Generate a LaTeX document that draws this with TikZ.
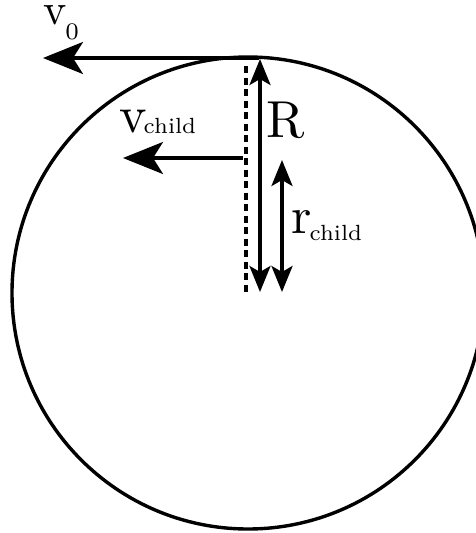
\documentclass[tikz,border=0pt]{standalone}
\usetikzlibrary{arrows.meta}
\newcommand\mainsym[2]{\scalebox{#1}{\normalsize #2}}
\newcommand\subsym[3]{\raisebox{-#1pt}{\scalebox{#2}{\scriptsize #3}}}
\begin{document}
\begin{tikzpicture}[x=1pt,y=-1pt,
  stroke/.style={line width=3.4pt, black},
  harrow/.style={stroke, -{Stealth[length=40pt,width=32pt,inset=10pt]}},
  varrow/.style={stroke, {Stealth[length=26pt,width=21pt,inset=6pt]}-{Stealth[length=26pt,width=21pt,inset=6pt]}},
  dashline/.style={line width=3.4pt, dash pattern=on 7pt off 4.5pt},
  lbl/.style={anchor=base west, inner sep=0pt}]
\useasboundingbox (0,0) rectangle (476,533);
\clip (0,0) rectangle (476,533);
% circle
\coordinate (c) at (248,293);
\draw[stroke] (c) circle[radius=236];
% coordinates
\coordinate (top) at (259,58);
\coordinate (v0end) at (43,58);
\coordinate (Rtop) at (260,59);
\coordinate (Rbot) at (260,292);
\coordinate (rtop) at (282,160);
\coordinate (rbot) at (282,292);
\coordinate (dtop) at (246,66);
\coordinate (dbot) at (246,294);
\coordinate (vcs) at (243,158);
\coordinate (vce) at (123,158);
% arrows
\draw[harrow] (top) -- (v0end);
\draw[dashline] (dtop) -- (dbot);
\draw[varrow] (Rtop) -- (Rbot);
\draw[varrow] (rtop) -- (rbot);
\draw[harrow] (vcs) -- (vce);
% labels
\node[lbl] (lv0) at (43,24) {\mainsym{4.4}{v}\hspace{-1pt}\subsym{15}{3.4}{0}};
\node[lbl] (lvc) at (119,132) {\mainsym{5.2}{v}\hspace{-3pt}\subsym{1}{3.14}{child}};
\node[lbl] (lR) at (266,137) {\mainsym{5.2}{R}};
\node[lbl] (lrc) at (291,233) {\mainsym{5.2}{r}\hspace{-2pt}\subsym{7}{3.14}{child}};
\end{tikzpicture}
\end{document}
